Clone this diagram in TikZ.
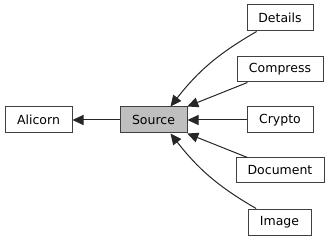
\documentclass[tikz,border=0pt]{standalone}
\usepackage{fontspec}
\setmainfont{DejaVu Sans}
\usepackage{tikz}
\usetikzlibrary{positioning,arrows.meta}

\definecolor{boxline}{HTML}{404040}
\definecolor{curfill}{HTML}{BFBFBF}

\tikzset{
  mod/.style={draw=boxline, line width=1pt, fill=white, inner sep=0pt,
    minimum height=26pt, font=\fontsize{12.5}{15}\selectfont},
  cur/.style={mod, fill=curfill},
  dep/.style={draw=black!85, line width=1pt, -{Triangle[length=11pt,width=10pt]}}
}

\begin{document}
\begin{tikzpicture}[x=1pt, y=1pt]
\useasboundingbox (0,0) rectangle (329,-240);
\node[mod, minimum width=67pt] (alicorn) at (38.5, -120) {Alicorn};
\node[cur, minimum width=67pt] (src) at (153.5, -120) {Source};
\node[mod, minimum width=66pt] (details) at (280, -18) {Details};
\node[mod, minimum width=86pt, minimum height=25pt] (compress) at (280, -69.5) {Compress};
\node[mod, minimum width=66pt] (crypto) at (280, -120) {Crypto};
\node[mod, minimum width=88pt, minimum height=25pt] (document) at (280, -170.5) {Document};
\node[mod, minimum width=63pt] (image) at (279.5, -222) {Image};
\draw[dep] (src) -- (alicorn);
\draw[dep] (details) to[out=-150, in=52] ([xshift=17pt]src.north);
\draw[dep] (compress) -- (src);
\draw[dep] (crypto) -- (src);
\draw[dep] (document) -- (src);
\draw[dep] (image) to[out=150, in=-52] ([xshift=17pt]src.south);
\end{tikzpicture}
\end{document}
